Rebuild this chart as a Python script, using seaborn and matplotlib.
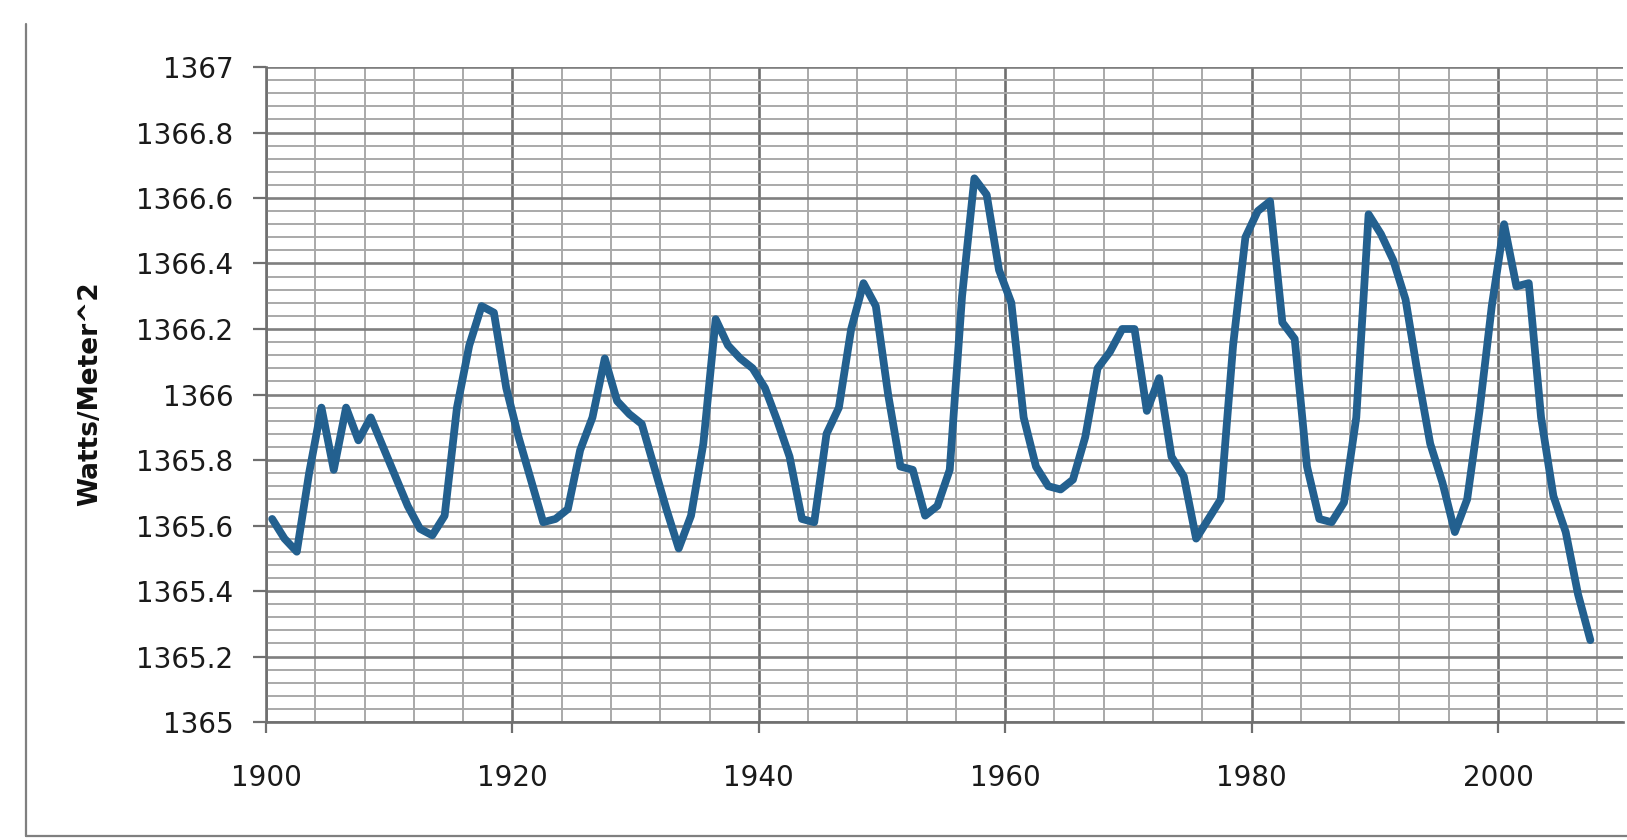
import numpy as np
import pandas as pd
import matplotlib
matplotlib.use("Agg")
import matplotlib.pyplot as plt
from matplotlib.ticker import MultipleLocator
import seaborn as sns

# ---- data (yearly values, plotted at mid-year) ----
years = list(range(1900, 2008))
tsi = [
    1365.62, 1365.56, 1365.52, 1365.76, 1365.96, 1365.77, 1365.96, 1365.86, 1365.93, 1365.84,
    1365.75, 1365.66, 1365.59, 1365.57, 1365.63, 1365.96, 1366.15, 1366.27, 1366.25, 1366.02,
    1365.87, 1365.74, 1365.61, 1365.62, 1365.65, 1365.83, 1365.93, 1366.11, 1365.98, 1365.94,
    1365.91, 1365.78, 1365.65, 1365.53, 1365.63, 1365.85, 1366.23, 1366.15, 1366.11, 1366.08,
    1366.02, 1365.92, 1365.81, 1365.62, 1365.61, 1365.88, 1365.96, 1366.20, 1366.34, 1366.27,
    1366.00, 1365.78, 1365.77, 1365.63, 1365.66, 1365.77, 1366.30, 1366.66, 1366.61, 1366.38,
    1366.28, 1365.93, 1365.78, 1365.72, 1365.71, 1365.74, 1365.87, 1366.08, 1366.13, 1366.20,
    1366.20, 1365.95, 1366.05, 1365.81, 1365.75, 1365.56, 1365.62, 1365.68, 1366.15, 1366.48,
    1366.56, 1366.59, 1366.22, 1366.17, 1365.78, 1365.62, 1365.61, 1365.67, 1365.93, 1366.55,
    1366.49, 1366.41, 1366.29, 1366.06, 1365.85, 1365.73, 1365.58, 1365.68, 1365.95, 1366.27,
    1366.52, 1366.33, 1366.34, 1365.93, 1365.69, 1365.58, 1365.39, 1365.25,
]
x_ticks = [1900, 1920, 1940, 1960, 1980, 2000]
y_ticks = [1365, 1365.2, 1365.4, 1365.6, 1365.8, 1366, 1366.2, 1366.4, 1366.6, 1366.8, 1367]
y_tick_labels = ["1365", "1365.2", "1365.4", "1365.6", "1365.8", "1366",
                 "1366.2", "1366.4", "1366.6", "1366.8", "1367"]
y_label = "Watts/Meter^2"

df = pd.DataFrame({"year": np.array(years) + 0.5, "tsi": tsi})

sns.set_theme(style="white")
plt.rcParams["font.family"] = ["DejaVu Sans"]

W, H = 1627, 840
fig = plt.figure(figsize=(W / 100, H / 100), dpi=100)
fig.patch.set_facecolor("white")
ax = fig.add_axes([266 / W, 1 - 722 / H, (1623 - 266) / W, (722 - 67) / H])
ax.set_facecolor("white")

sns.lineplot(data=df, x="year", y="tsi", ax=ax, color="#23608f", linewidth=5.6,
             solid_joinstyle="round", solid_capstyle="round", zorder=3)

ax.set_xlim(1900, 2010.15)
ax.set_ylim(1365, 1367)

ax.xaxis.set_major_locator(MultipleLocator(20))
ax.xaxis.set_minor_locator(MultipleLocator(4))
ax.set_xticks(x_ticks)
ax.set_xticklabels([str(v) for v in x_ticks])
ax.set_yticks(y_ticks)
ax.set_yticklabels(y_tick_labels)
ax.yaxis.set_minor_locator(MultipleLocator(0.04))

ax.set_axisbelow(True)
ax.grid(which="minor", axis="y", color="#a9a9a9", linewidth=1.4)
ax.grid(which="major", axis="y", color="#7f7f7f", linewidth=1.9)
ax.grid(which="minor", axis="x", color="#a9a9a9", linewidth=1.4)
ax.grid(which="major", axis="x", color="#6f6f6f", linewidth=1.9)

for s in ["top", "right"]:
    ax.spines[s].set_visible(False)
for s in ["left", "bottom"]:
    ax.spines[s].set_color("#6f6f6f")
    ax.spines[s].set_linewidth(1.9)

ax.tick_params(axis="y", which="major", direction="out", length=9.4, width=1.6,
               color="#6f6f6f", pad=14, labelsize=20, labelcolor="#1a1a1a", left=True)
ax.tick_params(axis="x", which="major", direction="out", length=8, width=1.6,
               color="#6f6f6f", pad=22, labelsize=20, labelcolor="#1a1a1a", bottom=True)
ax.tick_params(which="minor", length=0)

ax.set_xlabel("")
ax.set_ylabel("")
fig.text(90 / W, 1 - 394 / H, y_label, rotation=90, ha="center", va="center",
         fontsize=19, fontweight="bold", color="#111111")

# chart-area border (left and bottom edges visible)
fig.add_artist(plt.Line2D([26 / W, 26 / W], [1 - 24 / H, 1 - 836 / H],
                          transform=fig.transFigure, color="#7f7f7f", linewidth=1.6))
fig.add_artist(plt.Line2D([26 / W, 1.0], [1 - 836 / H, 1 - 836 / H],
                          transform=fig.transFigure, color="#7f7f7f", linewidth=1.6))

fig.savefig("out.png", dpi=100, facecolor="white")
